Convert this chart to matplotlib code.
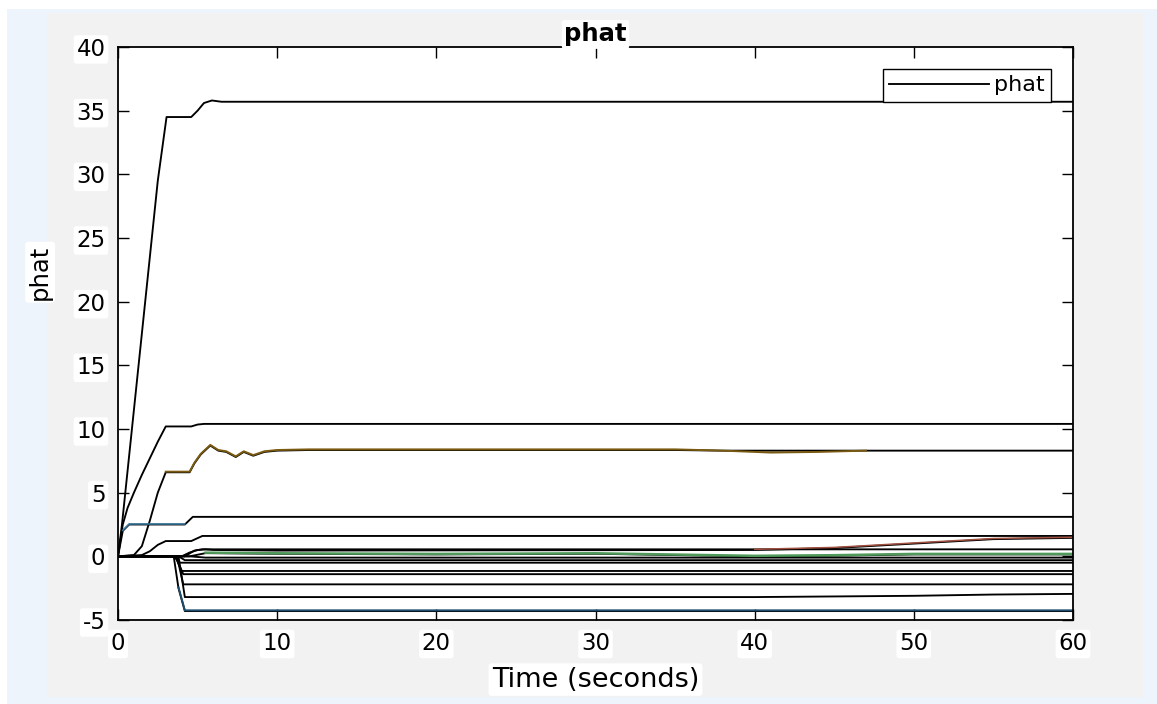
import numpy as np
import matplotlib.pyplot as plt
from matplotlib.patches import Rectangle

plt.rcParams['axes.unicode_minus'] = False

# ---- data (time in s, value) ----
t_top = [0, 0.25, 0.5, 1.0, 1.5, 2.0, 2.5, 3.05, 4.6, 5.0, 5.4, 5.9, 6.5, 60]
v_top = [0, 2.5, 5.5, 11.5, 17.5, 23.5, 29.5, 34.5, 34.5, 35.0, 35.6, 35.8, 35.7, 35.7]

t_ten = [0, 0.3, 0.6, 1.0, 1.5, 2.0, 2.5, 3.0, 4.6, 5.0, 5.4, 60]
v_ten = [0, 2.5, 3.8, 5.0, 6.4, 7.7, 9.0, 10.2, 10.2, 10.35, 10.4, 10.4]

t_osc = [0, 1.0, 1.5, 2.0, 2.5, 3.0, 4.5, 4.8, 5.2, 5.8, 6.3, 6.8, 7.4, 7.9, 8.5, 9.2, 10,
         12, 20, 35, 38, 41, 44, 47, 60]
v_osc = [0, 0.1, 0.8, 2.8, 5.0, 6.6, 6.6, 7.3, 8.0, 8.7, 8.3, 8.2, 7.8, 8.2, 7.9, 8.2, 8.3,
         8.35, 8.35, 8.35, 8.3, 8.3, 8.3, 8.3, 8.3]

t_osc_tint = [3.0, 4.5, 4.8, 5.2, 5.8, 6.3, 6.8, 7.4, 7.9, 8.5, 9.2, 10, 12, 20, 35, 38, 41, 44, 47]
v_osc_tint = [6.65, 6.65, 7.35, 8.05, 8.75, 8.35, 8.25, 7.85, 8.25, 7.95, 8.25, 8.35,
              8.4, 8.4, 8.4, 8.3, 8.15, 8.2, 8.3]

t_three = [0, 0.3, 0.7, 4.2, 4.7, 60]
v_three = [0, 2.0, 2.5, 2.5, 3.1, 3.1]

t_onesix = [0, 1.5, 2.0, 2.5, 3.0, 4.6, 5.3, 60]
v_onesix = [0, 0.1, 0.4, 0.9, 1.2, 1.2, 1.6, 1.6]

t_rise = [0, 4.0, 4.5, 5.0, 5.5, 6.0, 10, 40, 45, 50, 55, 60]
v_rise = [0, 0, 0.3, 0.5, 0.55, 0.5, 0.45, 0.5, 0.65, 1.0, 1.35, 1.45]

t_half = [0, 4.2, 4.8, 5.3, 60]
v_half = [0, 0, 0.45, 0.55, 0.55]

t_green = [0, 4.5, 5.5, 10, 20, 30, 40, 45, 50, 60]
v_green = [0, 0, 0.25, 0.2, 0.15, 0.2, 0.0, 0.05, 0.15, 0.15]

t_zero = [0, 4.5, 5.5, 60]
v_zero = [0, 0, -0.1, -0.1]

t_m03 = [0, 3.8, 4.2, 60]
v_m03 = [0, 0, -0.3, -0.3]

t_m05 = [0, 3.5, 3.9, 60]
v_m05 = [0, 0, -0.5, -0.5]

t_m11 = [0, 3.6, 4.0, 60]
v_m11 = [0, 0, -1.15, -1.15]

t_m14 = [0, 3.6, 4.1, 60]
v_m14 = [0, 0, -1.4, -1.4]

t_m22 = [0, 3.7, 4.1, 60]
v_m22 = [0, 0, -2.2, -2.2]

t_m32 = [0, 3.8, 4.2, 40, 45, 50, 55, 60]
v_m32 = [0, 0, -3.2, -3.2, -3.15, -3.1, -3.0, -2.95]

t_m43 = [0, 3.5, 3.8, 4.2, 60]
v_m43 = [0, 0, -2.5, -4.3, -4.3]

x_ticks = [0, 10, 20, 30, 40, 50, 60]
y_ticks = [-5, 0, 5, 10, 15, 20, 25, 30, 35, 40]

# ---- figure ----
fig = plt.figure(figsize=(11.57, 7.04), dpi=100)
fig.patch.set_facecolor('#eef4fc')
# grey MATLAB figure area and white strips of the screenshot
for rect in [((47 / 1157, 7 / 704), 1096 / 1157, 684 / 704, '#f2f2f2'),
             ((0, 695 / 704), 1, 9 / 704, 'white'),
             ((0, 0), 7 / 1157, 1, 'white')]:
    fig.add_artist(Rectangle(rect[0], rect[1], rect[2], transform=fig.transFigure,
                             fc=rect[3], ec='none', zorder=-10))

ax = fig.add_axes([118 / 1157, 84 / 704, 955 / 1157, 573 / 704])
ax.set_facecolor('white')

lw = 1.35
series = [
    (t_top, v_top), (t_ten, v_ten), (t_osc, v_osc), (t_three, v_three),
    (t_onesix, v_onesix), (t_rise, v_rise), (t_half, v_half), (t_green, v_green),
    (t_zero, v_zero), (t_m03, v_m03), (t_m05, v_m05), (t_m11, v_m11),
    (t_m14, v_m14), (t_m22, v_m22), (t_m32, v_m32), (t_m43, v_m43),
]
for i, (t, v) in enumerate(series):
    ax.plot(t, v, color='black', lw=lw, label='phat' if i == 0 else None)

# faint coloured traces peeking out from the bundle
ax.plot(t_osc_tint, v_osc_tint, color='#7a5a10', lw=1.4)
ax.plot(t_rise[7:], np.array(v_rise[7:]) + 0.05, color='#a05040', lw=1.1)
ax.plot(t_green[2:], np.array(v_green[2:]) + 0.04, color='#4f9a5a', lw=1.8)
ax.plot(t_m43[2:], np.array(v_m43[2:]) + 0.06, color='#1d4d6e', lw=1.4)
ax.plot(t_three[1:4], np.array(v_three[1:4]) + 0.04, color='#3a7ca5', lw=1.1)

ax.set_xlim(0, 60)
ax.set_ylim(-5, 40)
ax.set_xticks(x_ticks)
ax.set_yticks(y_ticks)
ax.tick_params(direction='in', length=8, width=1.0, top=True, right=True,
               labelsize=16.5, pad=9)
for s in ax.spines.values():
    s.set_linewidth(1.3)

halo = dict(boxstyle='round,pad=0.12', fc='white', ec='none')
for lab in ax.get_xticklabels() + ax.get_yticklabels():
    lab.set_bbox(halo)

ax.set_title('phat', fontsize=17.5, fontweight='bold', pad=4,
             bbox=dict(boxstyle='round,pad=0.1', fc='white', ec='none'))
ax.set_xlabel('Time (seconds)', fontsize=19.5, labelpad=8, bbox=halo)
ax.set_ylabel('phat', fontsize=17.5, bbox=halo)
ax.yaxis.set_label_coords(-0.069, 0.607)

leg = ax.legend(loc='upper right', bbox_to_anchor=(0.977, 0.962), borderaxespad=0,
                fontsize=16, handlelength=4.5, handletextpad=0.2, borderpad=0.3,
                fancybox=False, framealpha=1, edgecolor='black')
leg.get_frame().set_linewidth(1.0)

plt.savefig('out.png', dpi=100, facecolor=fig.get_facecolor())
